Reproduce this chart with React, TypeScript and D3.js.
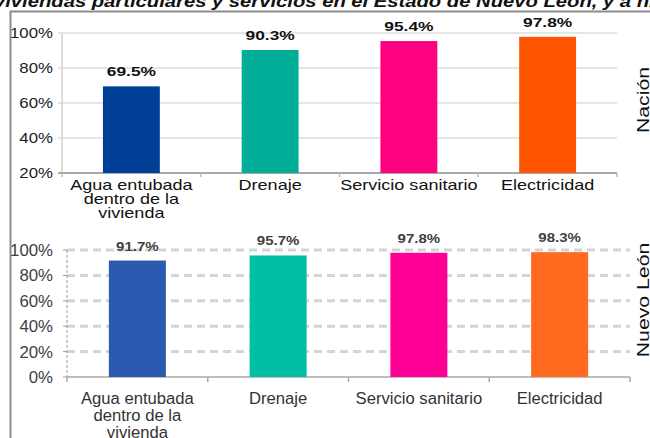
import React from "react";
import * as d3 from "d3";

const categoriesTop = [["Agua entubada", "dentro de la", "vivienda"], ["Drenaje"], ["Servicio sanitario"], ["Electricidad"]];
const categoriesBottom = [["Agua entubada", "dentro de la", "vivienda"], ["Drenaje"], ["Servicio sanitario"], ["Electricidad"]];
const valuesNacion = [69.5, 90.3, 95.4, 97.8];
const valuesNL = [91.7, 95.7, 97.8, 98.3];
const colorsTop = ["#003F96", "#00AE98", "#FF0080", "#FF5500"];
const colorsBottom = ["#2A5BB0", "#00BFA6", "#FF0097", "#FF6A1F"];
const ticksTop = [20, 40, 60, 80, 100];
const ticksBottom = [0, 20, 40, 60, 80, 100];
const title = "viviendas particulares y servicios en el Estado de Nuevo León, y a nivel nacional";
const panelLabels = ["Nación", "Nuevo León"];

const FONT = "'Liberation Sans', Arial, sans-serif";

function T({ x, y, sx = 1, sy = 1, children, ...rest }: any) {
  return (
    <text transform={`translate(${x},${y}) scale(${sx},${sy})`} fontFamily={FONT} {...rest}>
      {children}
    </text>
  );
}

export default function App() {
  const W = 650, H = 438;
  const idx = valuesNacion.map((_, i) => String(i));

  // Top panel
  const xT = d3.scaleBand<string>().domain(idx).range([62, 617]).paddingInner(0.59).paddingOuter(0.295);
  const yT = d3.scaleLinear().domain([20, 100]).range([173, 33]);
  const stepT = (617 - 62) / 4;

  // Bottom panel
  const xB = d3.scaleBand<string>().domain(idx).range([67, 630]).paddingInner(0.595).paddingOuter(0.2975);
  const yB = d3.scaleLinear().domain([0, 100]).range([377, 250]);
  const stepB = (630 - 67) / 4;

  return (
    <svg width={W} height={H} style={{ position: "absolute", left: 0, top: 0, background: "#fff" }}>
      <rect x={0} y={0} width={W} height={H} fill="#fff" />
      {/* cut-off title */}
      <T x={-6} y={7} sx={1.19} fontSize={17} fontWeight="bold" fontStyle="italic" fill="#111">{title}</T>
      {/* frame */}
      <path d={`M10.5,${H + 2} V11.5 H${W + 2}`} fill="none" stroke="#8c8c8c" strokeWidth={2} />

      {/* ---- Top panel ---- */}
      {ticksTop.filter(t => t > 20).map(t => (
        <line key={"gt" + t} x1={58} x2={617} y1={yT(t)} y2={yT(t)} stroke="#dcdcdc" strokeWidth={1.5} />
      ))}
      <line x1={62} x2={62} y1={yT(100)} y2={yT(20)} stroke="#d0d0d0" strokeWidth={1.5} />
      <line x1={58} x2={617} y1={yT(20)} y2={yT(20)} stroke="#a8a8a8" strokeWidth={2} />
      {d3.range(5).map(i => (
        <line key={"tt" + i} x1={62 + i * stepT} x2={62 + i * stepT} y1={yT(20)} y2={yT(20) + 4} stroke="#bdbdbd" strokeWidth={1.5} />
      ))}
      {ticksTop.map(t => (
        <T key={"yt" + t} x={53} y={yT(t) + 5} sx={1.2} fontSize={14} textAnchor="end" fill="#222">{t}%</T>
      ))}
      {valuesNacion.map((v, i) => (
        <rect key={"bt" + i} x={xT(String(i))} y={yT(v)} width={xT.bandwidth()} height={yT(20) - yT(v)} fill={colorsTop[i]} />
      ))}
      {valuesNacion.map((v, i) => (
        <T key={"vt" + i} x={(xT(String(i)) as number) + xT.bandwidth() / 2} y={yT(v) - 10} sx={1.45} fontSize={12} fontWeight="bold" textAnchor="middle" fill="#111">{v.toFixed(1)}%</T>
      ))}
      {categoriesTop.map((lines, i) => lines.map((ln, j) => (
        <T key={"ct" + i + j} x={62 + (i + 0.5) * stepT} y={190 + j * 14} sx={1.29} fontSize={14} textAnchor="middle" fill="#111">{ln}</T>
      )))}
      <text transform={`translate(649,100) rotate(-90) scale(1.25,1)`} fontFamily={FONT} fontSize={17} textAnchor="middle" fill="#111">{panelLabels[0]}</text>

      {/* ---- Bottom panel ---- */}
      {ticksBottom.filter(t => t > 0).map(t => (
        <line key={"gb" + t} x1={67} x2={630} y1={yB(t)} y2={yB(t)} stroke="#d4d4d4" strokeWidth={3} strokeDasharray="8,5" />
      ))}
      <line x1={67} x2={67} y1={yB(100)} y2={yB(0)} stroke="#9a9a9a" strokeWidth={1} strokeDasharray="3,2" />
      {ticksBottom.map(t => (
        <line key={"ytk" + t} x1={63} x2={67} y1={yB(t)} y2={yB(t)} stroke="#9a9a9a" strokeWidth={1} />
      ))}
      <line x1={67} x2={630} y1={yB(0)} y2={yB(0)} stroke="#a8a8a8" strokeWidth={1.5} />
      {d3.range(5).map(i => (
        <line key={"tb" + i} x1={67 + i * stepB} x2={67 + i * stepB} y1={yB(0)} y2={yB(0) + 5} stroke="#a8a8a8" strokeWidth={1.5} />
      ))}
      {ticksBottom.map(t => (
        <T key={"yb" + t} x={53} y={yB(t) + 6} sx={1.05} fontSize={16} textAnchor="end" fill="#404040">{t}%</T>
      ))}
      {valuesNL.map((v, i) => (
        <rect key={"bb" + i} x={xB(String(i))} y={yB(v)} width={xB.bandwidth()} height={yB(0) - yB(v)} fill={colorsBottom[i]} />
      ))}
      {valuesNL.map((v, i) => (
        <T key={"vb" + i} x={(xB(String(i)) as number) + xB.bandwidth() / 2} y={yB(v) - 10} sx={1.25} fontSize={12} fontWeight="bold" textAnchor="middle" fill="#404040">{v.toFixed(1)}%</T>
      ))}
      {categoriesBottom.map((lines, i) => lines.map((ln, j) => (
        <T key={"cb" + i + j} x={67 + (i + 0.5) * stepB} y={404 + j * 17} sx={1.04} fontSize={16} textAnchor="middle" fill="#333">{ln}</T>
      )))}
      <text transform={`translate(649,300) rotate(-90) scale(1.25,1)`} fontFamily={FONT} fontSize={17} textAnchor="middle" fill="#111">{panelLabels[1]}</text>
    </svg>
  );
}
